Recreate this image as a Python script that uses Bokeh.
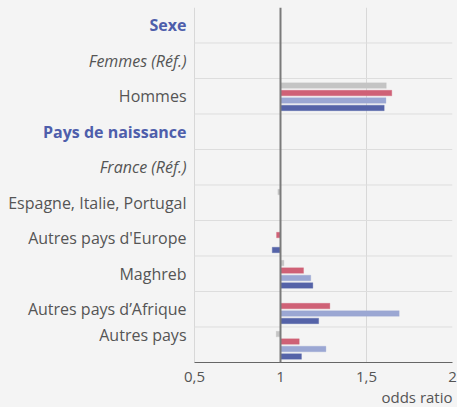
from bokeh.plotting import figure
from bokeh.models import Range1d, FixedTicker, Span, Title, ColumnDataSource
from bokeh.core.properties import value
from bokeh.embed import file_html
from bokeh.resources import INLINE
import math

NAN = float("nan")

# ---- data ----
categories = ["Sexe", "Femmes (Réf.)", "Hommes", "Pays de naissance", "France (Réf.)",
              "Espagne, Italie, Portugal", "Autres pays d'Europe", "Maghreb",
              "Autres pays d’Afrique", "Autres pays"]
kinds = ["header", "ref", "item", "header", "ref", "item", "item", "item", "item", "item"]

serie_grise = [NAN, NAN, 1.615, NAN, NAN, 0.985, 1.0, 1.02, 1.0, 0.975]
serie_rouge = [NAN, NAN, 1.647, NAN, NAN, 1.0, 0.977, 1.134, 1.287, 1.109]
serie_bleu_clair = [NAN, NAN, 1.613, NAN, NAN, 1.0, 1.0, 1.176, 1.69, 1.264]
serie_bleu_fonce = [NAN, NAN, 1.603, NAN, NAN, 1.0, 0.952, 1.188, 1.222, 1.122]

x_ticks = [0.5, 1, 1.5, 2]
x_tick_labels = ["0,5", "1", "1,5", "2"]
x_title = "odds ratio"

series = [serie_grise, serie_rouge, serie_bleu_clair, serie_bleu_fonce]
colors = ["#c4c4c4", "#cf6176", "#9ba7d3", "#5563a8"]

BG = "#f4f4f4"
FONT = "Open Sans"
n = len(categories)

# layout: label column 194 px, data area 258 px
LABEL_W, DATA_W = 194, 258
xmin, xmax = x_ticks[0], x_ticks[-1]
x_start = xmin - LABEL_W * (xmax - xmin) / DATA_W

p = figure(frame_width=LABEL_W + DATA_W, frame_height=355,
           x_range=Range1d(x_start, xmax), y_range=Range1d(n, 0),
           output_backend="svg", toolbar_location=None, y_axis_location=None,
           min_border_left=0, min_border_right=5, min_border_top=7, min_border_bottom=0)
p.outline_line_color = None
p.background_fill_color = BG
p.border_fill_color = BG
p.ygrid.visible = False

p.xgrid.ticker = FixedTicker(ticks=[0.5, 1.5, 2])
p.xgrid.grid_line_color = "#d8d8d8"

# horizontal separators between rows (only over the data area)
bounds = list(range(1, n))
p.segment(x0=xmin, x1=xmax, y0=bounds, y1=bounds, line_color="#dddddd", line_width=1)

# category labels
styles = {
    "header": dict(text_font_style="bold", text_color="#4e5eab"),
    "ref": dict(text_font_style="italic", text_color="#555555"),
    "item": dict(text_font_style="normal", text_color="#555555"),
}
for kind, st in styles.items():
    idx = [i for i, k in enumerate(kinds) if k == kind]
    ys = [i + 0.5 - (0.28 if i == n - 1 else 0.0) for i in idx]
    src = ColumnDataSource(dict(x=[xmin] * len(idx), y=ys, t=[categories[i] for i in idx]))
    p.text(x="x", y="y", text="t", source=src, x_offset=-8, text_align="right",
           text_baseline="middle", text_font=value(FONT), text_font_size="16px", **st)

bar_h = 0.155
for k, (vals, col) in enumerate(zip(series, colors)):
    off = (k - 1.5) * 0.21 + 0.015
    ys, rights = [], []
    for i, v in enumerate(vals):
        if not math.isnan(v):
            ys.append(i + 0.5 + off)
            rights.append(v)
    src = ColumnDataSource(dict(y=ys, right=rights))
    p.hbar(y="y", left=1, right="right", height=bar_h, source=src,
           fill_color=col, line_color=col, line_width=0.5, line_alpha=0.6)

p.add_layout(Span(location=1, dimension="height", line_color="#7a7a7a", line_width=2))

ax = p.xaxis[0]
ax.bounds = (xmin, xmax)
ax.ticker = FixedTicker(ticks=x_ticks)
ax.major_label_overrides = {t: l for t, l in zip(x_ticks, x_tick_labels)}
ax.axis_line_color = "#666666"
ax.major_tick_line_color = None
ax.minor_tick_line_color = None
ax.major_label_standoff = 3
ax.major_label_text_font = FONT
ax.major_label_text_font_size = "15px"
ax.major_label_text_color = "#555555"

p.add_layout(Title(text=x_title, align="right", text_font=FONT, text_font_size="15px",
                   text_font_style="normal", text_color="#555555", standoff=0, offset=0), "below")

html = file_html(p, INLINE)
html = html.replace("</head>", "<style>html, body {background: %s;}</style></head>" % BG, 1)
open("out.html", "w").write(html)
